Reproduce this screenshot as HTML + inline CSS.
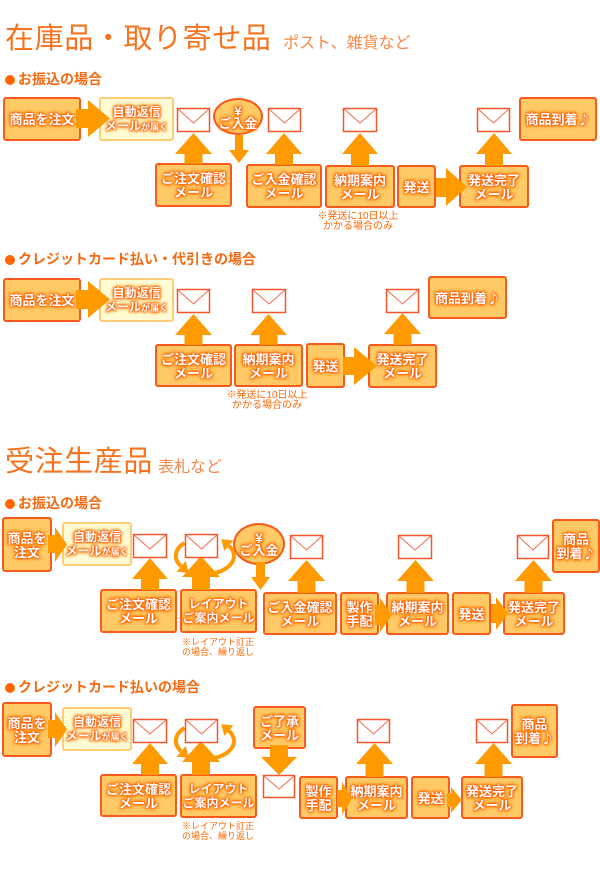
<!DOCTYPE html>
<html><head><meta charset="utf-8">
<style>
html,body{margin:0;padding:0;}
body{width:600px;height:873px;position:relative;background:#fff;overflow:hidden;font-family:"Liberation Sans","Noto Sans CJK JP",sans-serif;}
.b{position:absolute;box-sizing:border-box;border:2px solid #f85a1c;background:#ffc966;border-radius:3px;display:flex;flex-direction:column;align-items:stretch;justify-content:center;text-align:center;color:#fff;font-weight:bold;font-size:13px;line-height:14px;text-shadow:0 0 1px #ff5000,0 0 2px #ff5500,0 0 2px #ff5500,0 0 3px #ff6600,0 0 4px #ff8800,0 0 5px #ffa000;font-family:"Noto Sans CJK JP",sans-serif;white-space:nowrap;}
.b div{display:block;width:100%;text-align:center;}
.l{background:#fffbd4;border-color:#ffcd78;font-size:12px;}
.c{border-radius:50%;line-height:12px;}
.b small{font-size:9px;}
.t{position:absolute;white-space:nowrap;color:#f6741f;font-size:29px;line-height:32px;letter-spacing:0.6px;font-family:"Liberation Sans","Noto Sans CJK JP",sans-serif;}
.s{position:absolute;white-space:nowrap;color:#f8874a;font-size:16px;line-height:18px;}
.h{position:absolute;white-space:nowrap;color:#f46a12;font-size:14px;line-height:16px;font-weight:bold;}
.h i{display:inline-block;width:10px;height:10px;border-radius:50%;background:#ff6600;margin:0 3px 0 1px;vertical-align:-1px;}
.n{position:absolute;white-space:nowrap;color:#ff6600;font-size:10px;line-height:10px;}
svg{position:absolute;left:0;top:0;}
</style></head><body>

<div class="t" style="left:5px;top:23px">在庫品・取り寄せ品</div>
<div class="s" style="left:283px;top:35px">ポスト、雑貨など</div>
<div class="h" style="left:4px;top:71px"><i></i>お振込の場合</div>

<div class="b" style="left:3px;top:97px;width:78px;height:44px"><div>商品を注文</div></div>
<div class="b l" style="left:99px;top:97px;width:75px;height:44px"><div>自動返信</div><div>メール<small>が届く</small></div></div>
<div class="b c" style="left:213px;top:98px;width:50px;height:37px"><div>¥</div><div>ご入金</div></div>
<div class="b" style="left:155px;top:163px;width:77px;height:44px"><div>ご注文確認</div><div>メール</div></div>
<div class="b" style="left:246px;top:164px;width:76px;height:44px"><div>ご入金確認</div><div>メール</div></div>
<div class="b" style="left:325px;top:165px;width:70px;height:43px"><div>納期案内</div><div>メール</div></div>
<div class="b" style="left:397px;top:165px;width:39px;height:43px"><div>発送</div></div>
<div class="b" style="left:459px;top:165px;width:70px;height:43px"><div>発送完了</div><div>メール</div></div>
<div class="b" style="left:519px;top:97px;width:78px;height:44px"><div>商品到着♪</div></div>
<div class="n" style="left:308px;top:212px;width:100px;text-align:center">※発送に10日以上<br>かかる場合のみ</div>

<div class="h" style="left:4px;top:251px"><i></i>クレジットカード払い・代引きの場合</div>
<div class="b" style="left:3px;top:278px;width:78px;height:44px"><div>商品を注文</div></div>
<div class="b l" style="left:99px;top:278px;width:75px;height:44px"><div>自動返信</div><div>メール<small>が届く</small></div></div>
<div class="b" style="left:155px;top:344px;width:77px;height:43px"><div>ご注文確認</div><div>メール</div></div>
<div class="b" style="left:234px;top:344px;width:69px;height:43px"><div>納期案内</div><div>メール</div></div>
<div class="b" style="left:306px;top:343px;width:39px;height:45px"><div>発送</div></div>
<div class="b" style="left:368px;top:344px;width:69px;height:44px"><div>発送完了</div><div>メール</div></div>
<div class="b" style="left:428px;top:276px;width:79px;height:43px"><div>商品到着♪</div></div>
<div class="n" style="left:217px;top:391px;width:100px;text-align:center">※発送に10日以上<br>かかる場合のみ</div>

<div class="t" style="left:5px;top:446px">受注生産品</div>
<div class="s" style="left:158px;top:459px">表札など</div>
<div class="h" style="left:4px;top:495px"><i></i>お振込の場合</div>
<div class="b" style="left:2px;top:517px;width:50px;height:55px"><div>商品を</div><div>注文</div></div>
<div class="b l" style="left:62px;top:522px;width:70px;height:44px"><div>自動返信</div><div>メール<small>が届く</small></div></div>
<div class="b" style="left:100px;top:589px;width:77px;height:44px"><div>ご注文確認</div><div>メール</div></div>
<div class="b" style="left:180px;top:589px;width:77px;height:44px;font-size:12px"><div>レイアウト</div><div>ご案内メール</div></div>
<div class="b c" style="left:233px;top:523px;width:52px;height:42px"><div>¥</div><div>ご入金</div></div>
<div class="b" style="left:263px;top:592px;width:74px;height:43px"><div>ご入金確認</div><div>メール</div></div>
<div class="b" style="left:340px;top:592px;width:39px;height:43px"><div>製作</div><div>手配</div></div>
<div class="b" style="left:386px;top:592px;width:63px;height:43px"><div>納期案内</div><div>メール</div></div>
<div class="b" style="left:452px;top:592px;width:39px;height:43px"><div>発送</div></div>
<div class="b" style="left:503px;top:592px;width:62px;height:43px"><div>発送完了</div><div>メール</div></div>
<div class="b" style="left:552px;top:519px;width:48px;height:54px"><div>商品</div><div>到着♪</div></div>
<div class="n" style="left:182px;top:637px;font-size:9px">※レイアウト訂正<br>の場合、繰り返し</div>

<div class="h" style="left:4px;top:679px"><i></i>クレジットカード払いの場合</div>
<div class="b" style="left:2px;top:702px;width:50px;height:55px"><div>商品を</div><div>注文</div></div>
<div class="b l" style="left:62px;top:707px;width:70px;height:44px"><div>自動返信</div><div>メール<small>が届く</small></div></div>
<div class="b" style="left:100px;top:774px;width:77px;height:43px"><div>ご注文確認</div><div>メール</div></div>
<div class="b" style="left:180px;top:774px;width:77px;height:44px;font-size:12px"><div>レイアウト</div><div>ご案内メール</div></div>
<div class="b" style="left:253px;top:706px;width:53px;height:43px"><div>ご了承</div><div>メール</div></div>
<div class="b" style="left:299px;top:776px;width:39px;height:43px"><div>製作</div><div>手配</div></div>
<div class="b" style="left:345px;top:776px;width:63px;height:43px"><div>納期案内</div><div>メール</div></div>
<div class="b" style="left:411px;top:776px;width:39px;height:43px"><div>発送</div></div>
<div class="b" style="left:461px;top:776px;width:62px;height:43px"><div>発送完了</div><div>メール</div></div>
<div class="b" style="left:511px;top:704px;width:47px;height:54px"><div>商品</div><div>到着♪</div></div>
<div class="n" style="left:182px;top:821px;font-size:9px">※レイアウト訂正<br>の場合、繰り返し</div>

<svg width="600" height="873" viewBox="0 0 600 873">
<g fill="#ff9a00">
<polygon points="76,109 88,109 88,100 110,118.5 88,137 88,128 76,128"/>
<polygon points="436,178 446,178 446,168 467,187 446,206 446,197 436,197"/>
<polygon points="235,135 243,135 243,150 249,150 239,163 229,150 235,150"/>
<polygon points="193.5,133 212,154 202.5,154 202.5,164 184.5,164 184.5,154 175,154"/>
<polygon points="284,133 302,154 293,154 293,165 275,165 275,154 266,154"/>
<polygon points="360,133 378,154 369,154 369,166 351,166 351,154 342,154"/>
<polygon points="494,133 512,154 503,154 503,166 485,166 485,154 476,154"/>
<polygon points="76,290 88,290 88,281 110,299.5 88,318 88,309 76,309"/>
<polygon points="343,357 354,357 354,347 377,366 354,385 354,375 343,375"/>
<polygon points="193.5,314 212,335 202.5,335 202.5,345 184.5,345 184.5,335 175,335"/>
<polygon points="268.5,314 287,335 277.5,335 277.5,345 259.5,345 259.5,335 250,335"/>
<polygon points="402.5,313 421,334 411.5,334 411.5,345 393.5,345 393.5,334 384,334"/>
<polygon points="48,535 55,535 55,527 67,544.5 55,562 55,553 48,553"/>
<polygon points="375,605 380,605 380,598 392,615 380,632 380,625 375,625"/>
<polygon points="491,604 496,604 496,597 508,613.5 496,630 496,623 491,623"/>
<polygon points="256,562 265,562 265,577 270,577 260.5,590 251,577 256,577"/>
<polygon points="150,558 168,579 159,579 159,590 141,590 141,579 132,579"/>
<polygon points="306.5,560 325,581 315.5,581 315.5,593 297.5,593 297.5,581 288,581"/>
<polygon points="415.5,560 434,581 424.5,581 424.5,593 406.5,593 406.5,581 397,581"/>
<polygon points="533.5,560 552,581 542.5,581 542.5,593 524.5,593 524.5,581 515,581"/>
<polygon points="188.7,572.9 176.6,571.6 185.8,561"/>
<polygon points="221.3,539.1 233.4,540.5 224.2,550.9"/>
<polygon points="48,720 55,720 55,712 67,729.5 55,747 55,738 48,738"/>
<polygon points="337,790 342,790 342,782 352,798.5 342,815 342,807 337,807"/>
<polygon points="447,793 451,793 451,787 462,800 451,813 451,807 447,807"/>
<polygon points="270,745 288,745 288,757 297,757 279,775 261,757 270,757"/>
<polygon points="150,743 168,764 159,764 159,775 141,775 141,764 132,764"/>
<polygon points="374.5,743 393,764 383.5,764 383.5,777 365.5,777 365.5,764 356,764"/>
<polygon points="493.5,743 512,764 502.5,764 502.5,777 484.5,777 484.5,764 475,764"/>
<polygon points="188.7,757.9 176.6,756.6 185.8,746"/>
<polygon points="221.3,724.1 233.4,725.5 224.2,735.9"/>
</g>
<g fill="none" stroke="#ff9a00" stroke-width="4">
<path d="M184.5,543 A29,18 0 0 0 181.2,566.3"/>
<path d="M210,573.7 A29,18 0 0 0 228.8,545.7"/>
<path d="M184.5,728 A29,18 0 0 0 181.2,751.3"/>
<path d="M210,758.7 A29,18 0 0 0 228.8,730.7"/>
</g>
<g fill="#ff9a00">
<polygon points="201,556 220,577 210,577 210,590 192,590 192,577 182,577"/>
<polygon points="201,741 220,762 210,762 210,775 192,775 192,762 182,762"/>
</g>
<g fill="#fff" stroke="#f5552a" stroke-width="1.5">
<rect x="177.5" y="108.5" width="32" height="23"/>
<rect x="268.5" y="108.5" width="32" height="23"/>
<rect x="343.5" y="108.5" width="33" height="23"/>
<rect x="477.5" y="108.5" width="32" height="23"/>
<rect x="177.5" y="289.5" width="32" height="23"/>
<rect x="252.5" y="289.5" width="33" height="23"/>
<rect x="386.5" y="289.5" width="32" height="23"/>
<rect x="133.5" y="534.5" width="33" height="23"/>
<rect x="185.5" y="534.5" width="32" height="23"/>
<rect x="290.5" y="535.5" width="32" height="23"/>
<rect x="398.5" y="535.5" width="33" height="23"/>
<rect x="517.5" y="535.5" width="31" height="23"/>
<rect x="133.5" y="719.5" width="33" height="23"/>
<rect x="185.5" y="719.5" width="32" height="23"/>
<rect x="263.5" y="775.5" width="31" height="22"/>
<rect x="357.5" y="719.5" width="32" height="23"/>
<rect x="476.5" y="719.5" width="31" height="23"/>
</g>
<g fill="none" stroke="#f56a4a" stroke-width="1">
<polyline points="178,109 193.5,123 209,109"/>
<polyline points="269,109 284.5,123 300,109"/>
<polyline points="344,109 360,123 376,109"/>
<polyline points="478,109 493.5,123 509,109"/>
<polyline points="178,290 193.5,304 209,290"/>
<polyline points="253,290 269,304 285,290"/>
<polyline points="387,290 402.5,304 418,290"/>
<polyline points="134,535 150,549 166,535"/>
<polyline points="186,535 201.5,549 217,535"/>
<polyline points="291,536 306.5,550 322,536"/>
<polyline points="399,536 415,550 431,536"/>
<polyline points="518,536 533,550 548,536"/>
<polyline points="134,720 150,734 166,720"/>
<polyline points="186,720 201.5,734 217,720"/>
<polyline points="264,776 279,789 294,776"/>
<polyline points="358,720 373.5,734 389,720"/>
<polyline points="477,720 492,734 507,720"/>
</g>
</svg>
</body></html>
